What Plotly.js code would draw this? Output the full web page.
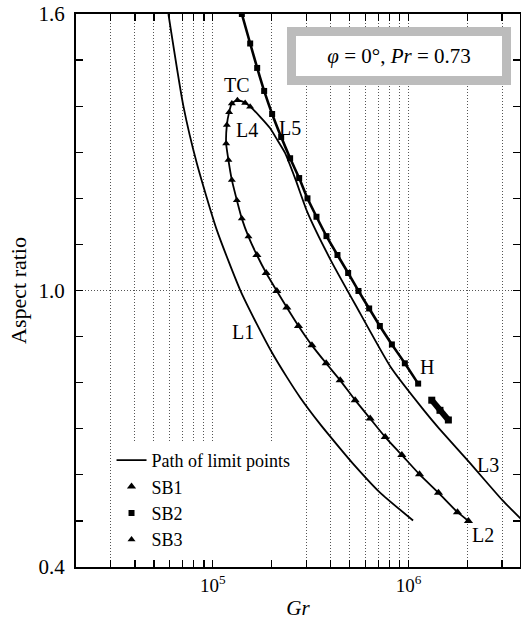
<!DOCTYPE html>
<html><head><meta charset="utf-8">
<script src="https://cdn.plot.ly/plotly-3.0.1.min.js"></script>
<style>html,body{margin:0;padding:0;background:#fff;}#chart{width:521px;height:625px;}</style>
</head><body><div id="chart"></div>
<script>
// Path of limit points L1
const l1Gr = [5.93e4, 7.08e4, 8.28e4, 1.048e5, 1.379e5, 1.678e5, 2.00e5, 2.387e5, 2.79e5, 3.53e5, 4.45e5, 5.18e5, 7.12e5, 1.053e6];
const l1Ar = [1.600, 1.399, 1.276, 1.131, 1.001, 0.927, 0.866, 0.812, 0.768, 0.710, 0.658, 0.625, 0.562, 0.501];

// Path of limit points L2 -> L4 -> TC -> L5 -> L3
const loopGr = [2.02e6, 1.775e6, 1.42e6, 1.136e6, 9.23e5, 7.59e5, 6.36e5, 5.33e5, 4.47e5, 3.79e5, 3.206e5, 2.737e5, 2.387e5, 2.122e5, 1.872e5, 1.678e5, 1.52e5, 1.406e5, 1.326e5, 1.25e5, 1.201e5, 1.169e5, 1.179e5, 1.211e5, 1.25e5, 1.335e5, 1.462e5, 1.55e5, 1.744e5, 1.962e5, 2.138e5, 2.34e5, 2.648e5, 3.038e5, 3.997e5, 5.362e5, 8.09e5, 1.197e6, 1.428e6, 2.032e6, 3.009e6, 3.733e6, 4.2e6];
const loopAr = [0.500, 0.519, 0.561, 0.601, 0.643, 0.682, 0.722, 0.762, 0.805, 0.842, 0.881, 0.923, 0.963, 0.999, 1.038, 1.077, 1.117, 1.156, 1.196, 1.240, 1.283, 1.319, 1.359, 1.387, 1.406, 1.413, 1.407, 1.399, 1.377, 1.352, 1.326, 1.298, 1.240, 1.170, 1.066, 0.968, 0.834, 0.740, 0.701, 0.628, 0.545, 0.505, 0.484];

// SB2 path (squares) from top down to H
const sb2Gr = [1.406e5, 1.551e5, 1.684e5, 1.828e5, 2.008e5, 2.233e5, 2.481e5, 2.759e5, 3.042e5, 3.382e5, 3.804e5, 4.329e5, 4.909e5, 5.541e5, 6.284e5, 7.126e5, 8.21e5, 9.56e5, 1.118e6];
const sb2Ar = [1.600, 1.536, 1.483, 1.433, 1.383, 1.333, 1.287, 1.244, 1.200, 1.160, 1.118, 1.077, 1.038, 0.999, 0.961, 0.923, 0.883, 0.842, 0.798];
// isolated dense SB2 segment beyond H
const sb2bGr = [1.312e6, 1.445e6, 1.595e6];
const sb2bAr = [0.762, 0.740, 0.719];

// SB1 triangles on L2
const sb1Gr = [2.02e6, 1.775e6, 1.42e6, 1.136e6, 9.23e5, 7.59e5, 6.36e5, 5.33e5, 4.47e5, 3.79e5, 3.206e5, 2.737e5, 2.387e5, 2.122e5, 1.872e5, 1.678e5];
const sb1Ar = [0.500, 0.519, 0.561, 0.601, 0.643, 0.682, 0.722, 0.762, 0.805, 0.842, 0.881, 0.923, 0.963, 0.999, 1.038, 1.077];
// SB3 triangles on L4 / near TC
const sb3Gr = [1.52e5, 1.406e5, 1.326e5, 1.25e5, 1.201e5, 1.169e5, 1.179e5, 1.211e5, 1.25e5, 1.335e5, 1.462e5, 1.55e5];
const sb3Ar = [1.117, 1.156, 1.196, 1.240, 1.283, 1.319, 1.359, 1.387, 1.406, 1.413, 1.407, 1.399];

// axis ticks
const xMajor = [1e5, 1e6];
const xMajorText = ['10<sup>5</sup>', '10<sup>6</sup>'];
const xMinor = [3e4, 4e4, 5e4, 6e4, 7e4, 8e4, 9e4, 2e5, 3e5, 4e5, 5e5, 6e5, 7e5, 8e5, 9e5, 2e6, 3e6];
const yTicks = [0.4, 1.0, 1.6];
const yTickText = ['0.4', '1.0', '1.6'];

// curve labels
const labelText = ['TC', 'L4', 'L5', 'L1', 'H', 'L3', 'L2'];
const labelGr = [1.326e5, 1.492e5, 2.482e5, 1.433e5, 1.243e6, 2.547e6, 2.401e6];
const labelAr = [1.446, 1.348, 1.352, 0.910, 0.834, 0.621, 0.469];

const FONT = 'Liberation Serif, Times New Roman, serif';
const GRID = {color: '#555', dash: '1px,2px'};

const traces = [
  {x: l1Gr, y: l1Ar, mode: 'lines', name: 'Path of limit points', line: {color: '#000', width: 1.8, shape: 'spline', smoothing: 0.6}, showlegend: true},
  {x: loopGr, y: loopAr, mode: 'lines', name: 'loop', line: {color: '#000', width: 1.8, shape: 'spline', smoothing: 0.5}, showlegend: false},
  {x: sb2Gr, y: sb2Ar, mode: 'lines', name: 'sb2line', line: {color: '#000', width: 2.6, shape: 'spline', smoothing: 0.5}, showlegend: false},
  {x: sb2bGr, y: sb2bAr, mode: 'lines+markers', name: 'sb2b', line: {color: '#000', width: 6}, marker: {symbol: 'square', size: 7, color: '#000'}, showlegend: false},
  {x: sb1Gr, y: sb1Ar, mode: 'markers', name: 'SB1', marker: {symbol: 'triangle-up', size: 8, color: '#000'}},
  {x: sb2Gr, y: sb2Ar, mode: 'markers', name: 'SB2', marker: {symbol: 'square', size: 6, color: '#000'}},
  {x: sb3Gr, y: sb3Ar, mode: 'markers', name: 'SB3', marker: {symbol: 'triangle-up', size: 7, color: '#000'}}
];

const annotations = labelText.map((t, i) => ({
  x: Math.log10(labelGr[i]), y: labelAr[i], xref: 'x', yref: 'y', text: t, showarrow: false,
  font: {family: FONT, size: 20, color: '#000'}, xanchor: 'center', yanchor: 'middle'
}));
annotations.push({
  x: 0.7268, y: 0.924, xref: 'paper', yref: 'paper', xanchor: 'center', yanchor: 'middle',
  text: '<i>\u03c6</i> = 0\u00b0, <i>Pr</i> = 0.73', showarrow: false,
  font: {family: FONT, size: 21, color: '#000'},
  bgcolor: '#fff', bordercolor: '#bcbcbc', borderwidth: 9, borderpad: 0, width: 206, height: 40
});

const layout = {
  width: 521, height: 625,
  margin: {l: 76, r: 1, t: 14, b: 58},
  paper_bgcolor: '#fff', plot_bgcolor: '#fff',
  font: {family: FONT, size: 20, color: '#000'},
  showlegend: true,
  legend: {x: 0.08, y: 0.226, xanchor: 'left', yanchor: 'top', bgcolor: '#fff', borderwidth: 0,
           font: {family: FONT, size: 18, color: '#000'}, tracegroupgap: 0},
  xaxis: {
    type: 'log', range: [Math.log10(2e4), 6.5686],
    tickmode: 'array', tickvals: xMajor, ticktext: xMajorText,
    ticks: 'inside', ticklen: 7, tickwidth: 1.2, tickcolor: '#000',
    minor: {tickmode: 'array', tickvals: xMinor, ticks: 'inside', ticklen: 7, tickwidth: 1.2, tickcolor: '#000',
            showgrid: true, gridcolor: GRID.color, gridwidth: 1, griddash: GRID.dash},
    showline: true, linecolor: '#000', linewidth: 2, mirror: 'ticks',
    showgrid: true, gridcolor: GRID.color, gridwidth: 1, griddash: GRID.dash,
    zeroline: false, tickfont: {family: FONT, size: 19},
    title: {text: '<i>Gr</i>', font: {family: FONT, size: 21}, standoff: 6}
  },
  yaxis: {
    range: [0.4, 1.6],
    tickmode: 'array', tickvals: yTicks, ticktext: yTickText,
    ticks: 'inside', ticklen: 7, tickwidth: 1.2, tickcolor: '#000',
    minor: {tick0: 0.4, dtick: 0.1, ticks: 'inside', ticklen: 7, tickwidth: 1.2, tickcolor: '#000', showgrid: false},
    showline: true, linecolor: '#000', linewidth: 2, mirror: 'ticks',
    showgrid: true, gridcolor: GRID.color, gridwidth: 1, griddash: GRID.dash,
    zeroline: false, tickfont: {family: FONT, size: 21}, ticklabelstandoff: 5,
    title: {text: 'Aspect ratio', font: {family: FONT, size: 22}, standoff: 6}
  },
  annotations: annotations
};

Plotly.newPlot('chart', traces, layout, {displayModeBar: false, staticPlot: true});
</script>
</body></html>
